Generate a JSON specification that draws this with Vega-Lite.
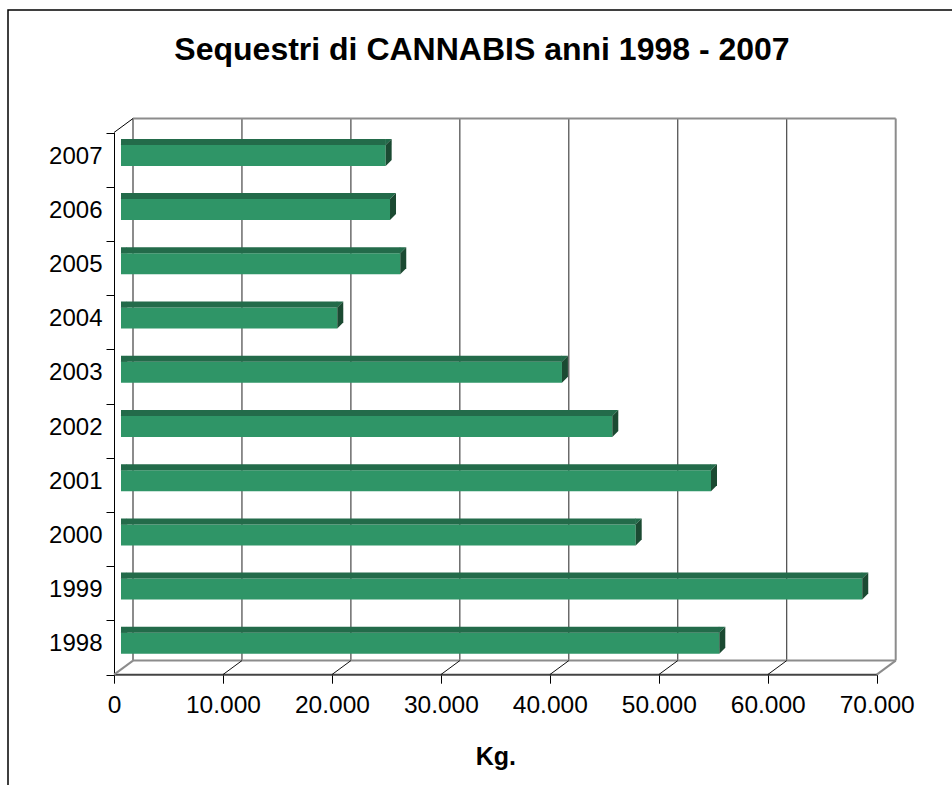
{
  "$schema": "https://vega.github.io/schema/vega-lite/v6.json",
  "width": 960,
  "height": 790,
  "autosize": {"type": "none"},
  "padding": {"left": 8, "top": 10, "right": -16, "bottom": -15},
  "background": "white",
  "config": {"view": {"stroke": "#000000", "strokeWidth": 1.5}, "font": "Liberation Sans"},
  "title": {
    "text": "Sequestri di CANNABIS anni 1998 - 2007",
    "fontSize": 32, "fontWeight": "bold", "font": "Liberation Sans", "color": "#000000",
    "anchor": "middle", "frame": "group", "dx": -6, "baseline": "alphabetic", "offset": -94
  },
  "datasets": {
    "sequestri": [
      {"anno": "1998", "kg": 54910},
      {"anno": "1999", "kg": 68030},
      {"anno": "2000", "kg": 47240},
      {"anno": "2001", "kg": 54150},
      {"anno": "2002", "kg": 45090},
      {"anno": "2003", "kg": 40470},
      {"anno": "2004", "kg": 19850},
      {"anno": "2005", "kg": 25630},
      {"anno": "2006", "kg": 24690},
      {"anno": "2007", "kg": 24290}
    ],
    "tacche": [
      {"v": 0}, {"v": 10000}, {"v": 20000}, {"v": 30000},
      {"v": 40000}, {"v": 50000}, {"v": 60000}, {"v": 70000}
    ]
  },
  "layer": [
    {
      "data": {"name": "tacche"},
      "transform": [{"filter": "datum.v > 0 && datum.v < 70000"}],
      "mark": {"type": "rule", "color": "#222222", "strokeWidth": 1, "xOffset": 19, "yOffset": -14, "y2Offset": -14},
      "encoding": {
        "x": {"field": "v", "type": "quantitative",
          "scale": {"type": "linear", "domain": [0, 70000], "range": [106, 868.7], "nice": false, "zero": false},
          "axis": {
            "title": "Kg.", "orient": "bottom", "offset": -125.8,
            "values": [0, 10000, 20000, 30000, 40000, 50000, 60000, 70000],
            "labelExpr": "replace(format(datum.value, ','), ',', '.')",
            "domainColor": "#444444", "domainWidth": 2, "tickColor": "#000000", "tickSize": 9,
            "labelFontSize": 24.5, "labelColor": "#000000", "labelPadding": 10, "labelFont": "Liberation Sans",
            "labelFlush": false, "labelOverlap": false,
            "titleFontSize": 25, "titleFontWeight": "bold", "titleColor": "#000000", "titleFont": "Liberation Sans", "titlePadding": 28,
            "grid": false
          }},
        "y": {"datum": "2007", "type": "nominal", "bandPosition": 0,
          "scale": {"type": "band", "domain": ["2007", "2006", "2005", "2004", "2003", "2002", "2001", "2000", "1999", "1998"], "range": [122.5, 664.6], "paddingInner": 0, "paddingOuter": 0},
          "axis": {
            "title": null, "orient": "left", "offset": -106,
            "domainColor": "#000000", "domainWidth": 1, "tickColor": "#000000", "tickSize": 8, "tickBand": "extent",
            "labelFontSize": 24, "labelColor": "#000000", "labelPadding": 4, "labelOffset": -3.5, "labelFont": "Liberation Sans",
            "grid": false
          }},
        "y2": {"datum": "1998", "bandPosition": 1}
      }
    },
    {
      "data": {"name": "tacche"},
      "transform": [{"filter": "datum.v == 0 || datum.v == 70000"}],
      "mark": {"type": "rule", "color": "#8c8c8c", "strokeWidth": 2, "xOffset": 19, "yOffset": -14, "y2Offset": -14},
      "encoding": {
        "x": {"field": "v", "type": "quantitative"},
        "y": {"datum": "2007", "type": "nominal", "bandPosition": 0},
        "y2": {"datum": "1998", "bandPosition": 1}
      }
    },
    {
      "data": {"name": "tacche"},
      "transform": [{"filter": "datum.v == 0"}],
      "mark": {"type": "rule", "color": "#8c8c8c", "strokeWidth": 2, "xOffset": 19, "x2Offset": 19, "yOffset": -14},
      "encoding": {
        "x": {"datum": 0, "type": "quantitative"},
        "x2": {"datum": 70000},
        "y": {"datum": "2007", "type": "nominal", "bandPosition": 0}
      }
    },
    {
      "data": {"name": "tacche"},
      "transform": [{"filter": "datum.v == 0"}],
      "mark": {"type": "rule", "color": "#8c8c8c", "strokeWidth": 2, "xOffset": 19, "x2Offset": 19, "yOffset": -14},
      "encoding": {
        "x": {"datum": 0, "type": "quantitative"},
        "x2": {"datum": 70000},
        "y": {"datum": "1998", "type": "nominal", "bandPosition": 1}
      }
    },
    {
      "data": {"name": "tacche"},
      "transform": [{"filter": "datum.v > 0 && datum.v < 70000"}],
      "mark": {"type": "rule", "color": "#111111", "strokeWidth": 1, "x2Offset": 19, "y2Offset": -14},
      "encoding": {
        "x": {"field": "v", "type": "quantitative"},
        "x2": {"field": "v"},
        "y": {"datum": "1998", "type": "nominal", "bandPosition": 1},
        "y2": {"datum": "1998", "bandPosition": 1}
      }
    },
    {
      "data": {"name": "tacche"},
      "transform": [{"filter": "datum.v == 0 || datum.v == 70000"}],
      "mark": {"type": "rule", "color": "#8c8c8c", "strokeWidth": 2, "x2Offset": 19, "y2Offset": -14},
      "encoding": {
        "x": {"field": "v", "type": "quantitative"},
        "x2": {"field": "v"},
        "y": {"datum": "1998", "type": "nominal", "bandPosition": 1},
        "y2": {"datum": "1998", "bandPosition": 1}
      }
    },
    {
      "data": {"name": "tacche"},
      "transform": [{"filter": "datum.v == 0"}],
      "mark": {"type": "rule", "color": "#000000", "strokeWidth": 1, "x2Offset": 19, "y2Offset": -14},
      "encoding": {
        "x": {"field": "v", "type": "quantitative"},
        "x2": {"field": "v"},
        "y": {"datum": "2007", "type": "nominal", "bandPosition": 0},
        "y2": {"datum": "2007", "bandPosition": 0}
      }
    },
    {
      "data": {"name": "sequestri"},
      "mark": {"type": "bar", "color": "#2f9567", "height": 21, "yOffset": -4.2, "xOffset": 7, "x2Offset": 7},
      "encoding": {
        "x": {"field": "kg", "type": "quantitative"},
        "y": {"field": "anno", "type": "nominal"}
      }
    },
    {
      "data": {"name": "sequestri"},
      "mark": {"type": "bar", "color": "#236b4a", "height": 6, "yOffset": -17.7, "xOffset": 7, "x2Offset": 13},
      "encoding": {
        "x": {"field": "kg", "type": "quantitative"},
        "y": {"field": "anno", "type": "nominal"}
      }
    },
    {
      "data": {"name": "sequestri"},
      "mark": {"type": "point", "shape": "M-0.3,-14.7L6,-20.7L6.3,-14.7Z", "size": 4, "filled": true, "color": "#236b4a", "opacity": 1, "strokeWidth": 0, "xOffset": 7},
      "encoding": {
        "x": {"datum": 0, "type": "quantitative"},
        "y": {"field": "anno", "type": "nominal"}
      }
    },
    {
      "data": {"name": "sequestri"},
      "mark": {"type": "point", "shape": "M-0.5,-20.7L6,-20.7L-0.5,-14.2Z", "size": 4, "filled": true, "color": "#236b4a", "opacity": 1, "strokeWidth": 0, "xOffset": 7},
      "encoding": {
        "x": {"field": "kg", "type": "quantitative"},
        "y": {"field": "anno", "type": "nominal"}
      }
    },
    {
      "data": {"name": "sequestri"},
      "mark": {"type": "point", "shape": "M0,-14.7L6,-20.7L6,0.3L0,6.3Z", "size": 4, "filled": true, "color": "#1b4a32", "opacity": 1, "strokeWidth": 0, "xOffset": 7},
      "encoding": {
        "x": {"field": "kg", "type": "quantitative"},
        "y": {"field": "anno", "type": "nominal"}
      }
    }
  ]
}
